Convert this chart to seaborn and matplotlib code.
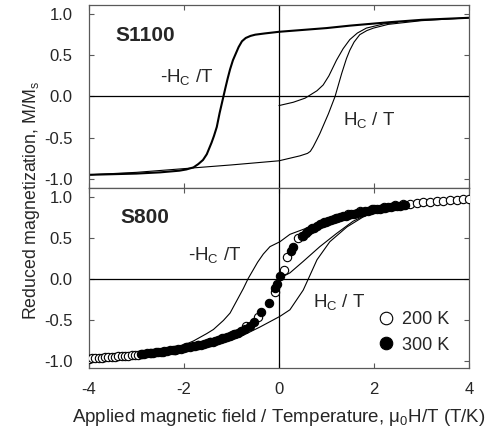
import matplotlib
matplotlib.use("Agg")
import matplotlib.pyplot as plt
import seaborn as sns
import pandas as pd
from matplotlib.lines import Line2D

# ---------------- data ----------------
# S1100 (top panel)
s1100_desc_x = [4.0, 3.0, 2.3, 1.5, 1.0, 0.0, -0.3, -0.5, -0.6, -0.7, -0.78, -0.85, -0.91, -0.97,
                -1.03, -1.08, -1.13, -1.17, -1.21, -1.25, -1.31, -1.37, -1.42, -1.52, -1.60, -1.70,
                -1.80, -1.95, -2.1, -2.5, -3.0, -4.0]
s1100_desc_y = [0.955, 0.93, 0.90, 0.86, 0.83, 0.785, 0.765, 0.75, 0.735, 0.71, 0.67, 0.60, 0.52,
                0.44, 0.33, 0.22, 0.10, 0.0, -0.10, -0.20, -0.37, -0.48, -0.56, -0.70, -0.77, -0.82,
                -0.86, -0.885, -0.90, -0.92, -0.935, -0.95]
s1100_asc_x = [-4.0, -3.0, -2.0, -1.0, 0.0, 0.44, 0.60, 0.66, 0.72, 0.80, 0.86, 0.95, 1.04, 1.18,
               1.32, 1.42, 1.49, 1.58, 1.70, 1.85, 1.99, 2.3, 3.0, 4.0]
s1100_asc_y = [-0.95, -0.92, -0.875, -0.83, -0.78, -0.72, -0.69, -0.665, -0.61, -0.52, -0.45,
               -0.33, -0.21, 0.0, 0.28, 0.46, 0.56, 0.66, 0.75, 0.80, 0.83, 0.875, 0.92, 0.955]
s1100_virgin_x = [0.0, 0.3, 0.55, 0.65, 0.80, 0.93, 1.05, 1.21, 1.35, 1.49, 1.65, 1.84, 2.2, 2.5]
s1100_virgin_y = [-0.11, -0.07, -0.02, 0.016, 0.07, 0.14, 0.25, 0.44, 0.58, 0.69, 0.77, 0.83,
                  0.88, 0.90]

# S800 (bottom panel) loop lines
s800_desc_x = [4.0, 3.0, 2.5, 2.0, 1.5, 1.0, 0.6, 0.23, 0.02, -0.19, -0.33, -0.45, -0.57, -0.65,
               -0.75, -0.89, -1.03, -1.17, -1.38, -1.52, -1.8, -2.08, -2.5, -3.0, -4.0]
s800_desc_y = [0.975, 0.93, 0.90, 0.86, 0.79, 0.70, 0.62, 0.54, 0.45, 0.39, 0.30, 0.20, 0.08, 0.0,
               -0.12, -0.27, -0.42, -0.51, -0.62, -0.67, -0.76, -0.83, -0.89, -0.93, -0.975]
s800_asc_x = [-4.0, -3.0, -2.5, -2.0, -1.5, -1.0, -0.82, -0.4, 0.02, 0.23, 0.37, 0.51, 0.62, 0.8,
              1.07, 1.43, 1.85, 2.13, 2.5, 3.0, 4.0]
s800_asc_y = [-0.975, -0.93, -0.90, -0.85, -0.80, -0.74, -0.71, -0.59, -0.46, -0.38, -0.26, -0.14,
              0.0, 0.23, 0.45, 0.63, 0.78, 0.83, 0.88, 0.93, 0.975]
s800_virgin_x = [0.0, 0.23, 0.51, 0.86, 1.21, 1.56, 1.92, 2.13, 2.5]
s800_virgin_y = [0.0, 0.07, 0.21, 0.39, 0.55, 0.70, 0.80, 0.84, 0.885]

# S800 measured points
t200_x = [-4.00, -3.94, -3.87, -3.80, -3.73, -3.66, -3.59, -3.52, -3.45, -3.38, -3.31, -3.24,
          -3.17, -3.10, -3.03, -2.96, -2.89, -2.70, -2.45, -2.20, -1.95, -1.70, -1.45, -1.20,
          -0.95, -0.70, -0.45, -0.08, 0.10, 0.16, 0.40, 0.48, 0.70, 0.95, 1.20, 1.45, 1.70,
          1.95, 2.20, 2.45, 2.62, 2.76, 2.90, 3.04, 3.18, 3.32, 3.46, 3.60, 3.74, 3.88, 4.00]
t200_y = [-0.975, -0.972, -0.970, -0.967, -0.964, -0.961, -0.958, -0.955, -0.952, -0.949, -0.946,
          -0.943, -0.940, -0.937, -0.933, -0.929, -0.925, -0.91, -0.89, -0.87, -0.84, -0.81,
          -0.775, -0.73, -0.67, -0.58, -0.47, -0.16, 0.11, 0.26, 0.50, 0.52, 0.62, 0.69, 0.745,
          0.785, 0.82, 0.85, 0.875, 0.895, 0.905, 0.915, 0.925, 0.932, 0.938, 0.944, 0.950,
          0.956, 0.962, 0.968, 0.975]
t300_x = [-2.90, -2.84, -2.78, -2.72, -2.66, -2.60, -2.54, -2.48, -2.42, -2.36, -2.30, -2.24,
          -2.18, -2.12, -2.06, -2.00, -1.94, -1.88, -1.82, -1.76, -1.70, -1.64, -1.58, -1.52,
          -1.46, -1.40, -1.34, -1.28, -1.22, -1.16, -1.10, -1.04, -0.98, -0.92, -0.86, -0.80,
          -0.72, -0.62, -0.53, -0.37, -0.22, -0.08, -0.04, 0.02, 0.25, 0.30, 0.50, 0.56, 0.62,
          0.68, 0.74, 0.80, 0.86, 0.92, 0.98, 1.04, 1.10, 1.16, 1.22, 1.28, 1.34, 1.40, 1.46,
          1.52, 1.58, 1.64, 1.70, 1.76, 1.82, 1.88, 1.94, 2.00, 2.06, 2.12, 2.18, 2.24, 2.30,
          2.36, 2.42, 2.48, 2.54, 2.60, 2.66]
t300_y = [-0.920, -0.916, -0.912, -0.908, -0.903, -0.899, -0.895, -0.890, -0.886, -0.881, -0.876,
          -0.871, -0.866, -0.860, -0.854, -0.847, -0.840, -0.834, -0.827, -0.820, -0.812, -0.804,
          -0.796, -0.787, -0.778, -0.768, -0.758, -0.748, -0.737, -0.725, -0.714, -0.701,
          -0.688, -0.674, -0.658, -0.642, -0.615, -0.575, -0.525, -0.41, -0.30, -0.12, -0.06,
          0.03, 0.34, 0.38, 0.52, 0.555, 0.58, 0.60, 0.62, 0.64, 0.66, 0.675, 0.69, 0.705, 0.715,
          0.727, 0.738, 0.748, 0.758, 0.767, 0.776, 0.785, 0.793, 0.801, 0.809, 0.816, 0.823,
          0.830, 0.837, 0.843, 0.849, 0.855, 0.861, 0.866, 0.871, 0.876, 0.881, 0.886, 0.891,
          0.895, 0.899]

xticks = [-4, -2, 0, 2, 4]
yticks = [-1.0, -0.5, 0.0, 0.5, 1.0]

# ---------------- style ----------------
sns.set_style("ticks")
plt.rcParams["font.family"] = ["Liberation Sans", "DejaVu Sans"]
plt.rcParams["mathtext.fontset"] = "custom"
plt.rcParams["mathtext.rm"] = "Liberation Sans"
plt.rcParams["mathtext.it"] = "Liberation Sans"
plt.rcParams["axes.unicode_minus"] = False

fig = plt.figure(figsize=(4.86, 4.32), dpi=100)
W, H = 486, 432
ax1 = fig.add_axes([89 / W, 1 - 188 / H, 380 / W, 183 / H])
ax2 = fig.add_axes([89 / W, 1 - 368 / H, 380 / W, 180 / H])

thin = 0.8
for ax in (ax1, ax2):
    ax.axhline(0, color="black", lw=0.9, zorder=1)
    ax.axvline(0, color="black", lw=0.9, zorder=1)

def draw_line(ax, xs, ys, lw):
    df = pd.DataFrame({"x": xs, "y": ys})
    sns.lineplot(data=df, x="x", y="y", sort=False, estimator=None, color="black",
                 lw=lw, ax=ax, zorder=2)

draw_line(ax1, s1100_desc_x, s1100_desc_y, 1.5)
draw_line(ax1, s1100_asc_x, s1100_asc_y, thin)
draw_line(ax1, s1100_virgin_x, s1100_virgin_y, thin)

draw_line(ax2, s800_desc_x, s800_desc_y, thin)
draw_line(ax2, s800_asc_x, s800_asc_y, thin)
draw_line(ax2, s800_virgin_x, s800_virgin_y, thin)

sns.scatterplot(x=t200_x, y=t200_y, ax=ax2, marker="o", s=36, facecolor="white",
                edgecolor="black", linewidth=0.8, zorder=3)
sns.scatterplot(x=t300_x, y=t300_y, ax=ax2, marker="o", s=36, color="black",
                edgecolor="black", linewidth=0.8, zorder=4)

for ax in (ax1, ax2):
    ax.set_xlim(-4, 4)
    ax.set_xticks(xticks)
    ax.set_yticks(yticks)
    ax.set_yticklabels([f"{v:.1f}" for v in yticks])
    ax.tick_params(direction="in", top=True, right=True, length=3.5, width=0.8,
                   color="0.35", labelsize=12)
    ax.tick_params(axis="y", pad=12)
    ax.tick_params(axis="x", pad=10)
    for sp in ax.spines.values():
        sp.set_color("0.35")
        sp.set_linewidth(0.9)
    ax.set_xlabel("")
    ax.set_ylabel("")

ax1.set_ylim(-1.11, 1.11)
ax2.set_ylim(-1.09, 1.105)
ax1.tick_params(labelbottom=False)
ax2.set_xticklabels([str(v) for v in xticks])

# annotations
ax1.text(-3.45, 0.74, "S1100", fontsize=15, fontweight="bold", va="center", ha="left")
ax2.text(-3.33, 0.75, "S800", fontsize=15, fontweight="bold", va="center", ha="left")
ax1.text(-2.5, 0.17, r"-H$_{\mathrm{C}}$ /T", fontsize=13.5, ha="left", va="baseline")
ax1.text(1.35, -0.34, r"H$_{\mathrm{C}}$ / T", fontsize=13.5, ha="left", va="baseline")
ax2.text(-1.92, 0.23, r"-H$_{\mathrm{C}}$ /T", fontsize=13.5, ha="left", va="baseline")
ax2.text(0.72, -0.35, r"H$_{\mathrm{C}}$ / T", fontsize=13.5, ha="left", va="baseline")

handles = [
    Line2D([], [], ls="none", marker="o", ms=9, mfc="white", mec="black", mew=0.8),
    Line2D([], [], ls="none", marker="o", ms=9, mfc="black", mec="black", mew=0.8),
]
ax2.legend(handles, ["200 K", "300 K"], loc="lower right", frameon=False, fontsize=13,
           handletextpad=0.35, labelspacing=0.45, borderaxespad=0, borderpad=0,
           handlelength=1.0, bbox_to_anchor=(0.947, 0.08))

ax2.set_xlabel(r"Applied magnetic field / Temperature, $\mathrm{\mu_0}$H/T (T/K)", fontsize=13.5,
               labelpad=7)
fig.text(32 / W, 1 - 201 / H, r"Reduced magnetization, M/M$_{\mathrm{s}}$", rotation=90,
         fontsize=12.8, ha="center", va="center")

fig.savefig("out.png", dpi=100)
